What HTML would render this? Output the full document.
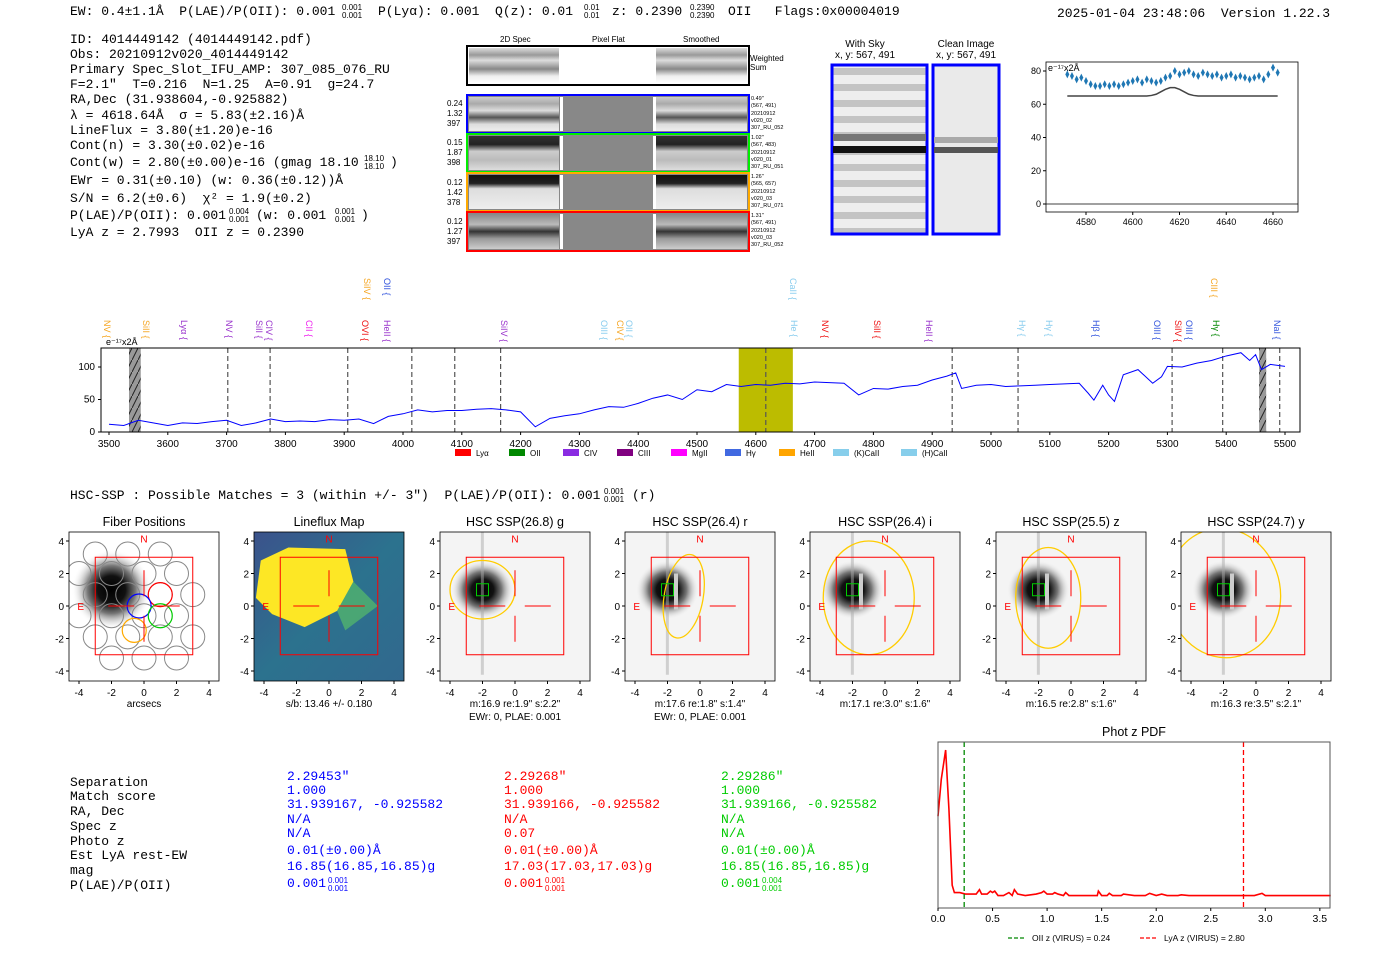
<!DOCTYPE html>
<html><head><meta charset="utf-8"><style>
body{margin:0;background:#fff}
svg{display:block}
text{font-family:"Liberation Sans",sans-serif}
.m,.mono text.v{font-family:"Liberation Mono",monospace;font-size:13px;white-space:pre}
.m{fill:#000}
.t{font-size:10px;fill:#000}
</style></head><body>
<svg id="root" width="1400" height="953" viewBox="0 0 1400 953" xmlns="http://www.w3.org/2000/svg">
<defs>
<linearGradient id="gWS" x1="0" y1="0" x2="0" y2="1"><stop offset="0" stop-color="#ddd"/><stop offset="0.2" stop-color="#999"/><stop offset="0.35" stop-color="#ddd"/><stop offset="0.6" stop-color="#888"/><stop offset="0.8" stop-color="#eee"/><stop offset="1" stop-color="#fff"/></linearGradient>
<linearGradient id="gB" x1="0" y1="0" x2="0" y2="1"><stop offset="0" stop-color="#ccc"/><stop offset="0.2" stop-color="#aaa"/><stop offset="0.4" stop-color="#ddd"/><stop offset="0.6" stop-color="#555"/><stop offset="0.8" stop-color="#ddd"/><stop offset="1" stop-color="#eee"/></linearGradient>
<linearGradient id="gG" x1="0" y1="0" x2="0" y2="1"><stop offset="0" stop-color="#333"/><stop offset="0.25" stop-color="#222"/><stop offset="0.45" stop-color="#ccc"/><stop offset="0.7" stop-color="#bbb"/><stop offset="1" stop-color="#ddd"/></linearGradient>
<linearGradient id="gO" x1="0" y1="0" x2="0" y2="1"><stop offset="0" stop-color="#111"/><stop offset="0.25" stop-color="#222"/><stop offset="0.4" stop-color="#ddd"/><stop offset="1" stop-color="#eee"/></linearGradient>
<linearGradient id="gR" x1="0" y1="0" x2="0" y2="1"><stop offset="0" stop-color="#888"/><stop offset="0.3" stop-color="#bbb"/><stop offset="0.5" stop-color="#333"/><stop offset="0.7" stop-color="#999"/><stop offset="1" stop-color="#ccc"/></linearGradient>
<pattern id="sky" width="10" height="16" patternUnits="userSpaceOnUse"><rect width="10" height="16" fill="#eee"/><rect y="4" width="10" height="7" fill="#c4c4c4"/></pattern>
<pattern id="hatch" width="6" height="12" patternUnits="userSpaceOnUse"><rect width="6" height="12" fill="#999"/><line x1="0" y1="12" x2="6" y2="0" stroke="#222" stroke-width="1"/></pattern>
<radialGradient id="star"><stop offset="0" stop-color="#000"/><stop offset="0.35" stop-color="#111"/><stop offset="0.6" stop-color="#777"/><stop offset="1" stop-color="#fff" stop-opacity="0"/></radialGradient>
<linearGradient id="vir" x1="0" y1="0" x2="1" y2="1"><stop offset="0" stop-color="#3b528b"/><stop offset="0.5" stop-color="#2c728e"/><stop offset="1" stop-color="#31688e"/></linearGradient>
</defs>

<g>
<text class="m" x="70" y="15">EW: 0.4±1.1Å  P(LAE)/P(OII): 0.001</text>
<text x="342" y="10" font-size="8">0.001</text><text x="342" y="18" font-size="8">0.001</text>
<text class="m" x="378" y="15">P(Lyα): 0.001  Q(z): 0.01</text>
<text x="584" y="10" font-size="8">0.01</text><text x="584" y="18" font-size="8">0.01</text>
<text class="m" x="612" y="15">z: 0.2390</text>
<text x="690" y="10" font-size="8">0.2390</text><text x="690" y="18" font-size="8">0.2390</text>
<text class="m" x="728" y="15">OII   Flags:0x00004019</text>
<text class="m" x="1057" y="17">2025-01-04 23:48:06  Version 1.22.3</text>
</g>
<g>
<text class="m" x="70" y="43">ID: 4014449142 (4014449142.pdf)</text>
<text class="m" x="70" y="58">Obs: 20210912v020_4014449142</text>
<text class="m" x="70" y="73">Primary Spec_Slot_IFU_AMP: 307_085_076_RU</text>
<text class="m" x="70" y="88">F=2.1"  T=0.216  N=1.25  A=0.91  g=24.7</text>
<text class="m" x="70" y="103">RA,Dec (31.938604,-0.925882)</text>
<text class="m" x="70" y="119">λ = 4618.64Å  σ = 5.83(±2.16)Å</text>
<text class="m" x="70" y="134">LineFlux = 3.80(±1.20)e-16</text>
<text class="m" x="70" y="149">Cont(n) = 3.30(±0.02)e-16</text>
<text class="m" x="70" y="166">Cont(w) = 2.80(±0.00)e-16 (gmag 18.10</text>
<text x="364" y="161" font-size="8">18.10</text><text x="364" y="169" font-size="8">18.10</text><text class="m" x="390" y="166">)</text>
<text class="m" x="70" y="184">EWr = 0.31(±0.10) (w: 0.36(±0.12))Å</text>
<text class="m" x="70" y="202">S/N = 6.2(±0.6)  χ² = 1.9(±0.2)</text>
<text class="m" x="70" y="219">P(LAE)/P(OII): 0.001</text>
<text x="229" y="214" font-size="8">0.004</text><text x="229" y="222" font-size="8">0.001</text>
<text class="m" x="256" y="219">(w: 0.001</text><text x="335" y="214" font-size="8">0.001</text><text x="335" y="222" font-size="8">0.001</text><text class="m" x="361" y="219">)</text>
<text class="m" x="70" y="236">LyA z = 2.7993  OII z = 0.2390</text>
</g>

<g font-size="7">
<text x="500" y="42" font-size="8">2D Spec</text><text x="592" y="42" font-size="8">Pixel Flat</text><text x="683" y="42" font-size="8">Smoothed</text>
<rect x="467" y="46" width="282" height="39" fill="#fff" stroke="#000" stroke-width="2"/>
<rect x="469" y="48" width="90" height="35" fill="url(#gWS)"/><rect x="656" y="48" width="91" height="35" fill="url(#gWS)"/>
<text x="750" y="61" font-size="8">Weighted</text><text x="750" y="70" font-size="8">Sum</text>
<g><rect x="467" y="95" width="282" height="38" fill="#888" stroke="#00f" stroke-width="2"/><rect x="469" y="97" width="90" height="34" fill="url(#gB)"/><rect x="656" y="97" width="91" height="34" fill="url(#gB)"/><rect x="560" y="97" width="3" height="34" fill="#fff"/><rect x="653" y="97" width="3" height="34" fill="#fff"/></g>
<g><rect x="467" y="134" width="282" height="38" fill="#888" stroke="#0e0" stroke-width="2"/><rect x="469" y="136" width="90" height="34" fill="url(#gG)"/><rect x="656" y="136" width="91" height="34" fill="url(#gG)"/><rect x="560" y="136" width="3" height="34" fill="#fff"/><rect x="653" y="136" width="3" height="34" fill="#fff"/></g>
<g><rect x="467" y="173" width="282" height="38" fill="#888" stroke="#fa0" stroke-width="2"/><rect x="469" y="175" width="90" height="34" fill="url(#gO)"/><rect x="656" y="175" width="91" height="34" fill="url(#gO)"/><rect x="560" y="175" width="3" height="34" fill="#fff"/><rect x="653" y="175" width="3" height="34" fill="#fff"/></g>
<g><rect x="467" y="212" width="282" height="39" fill="#888" stroke="#f00" stroke-width="2"/><rect x="469" y="214" width="90" height="35" fill="url(#gR)"/><rect x="656" y="214" width="91" height="35" fill="url(#gR)"/><rect x="560" y="214" width="3" height="35" fill="#fff"/><rect x="653" y="214" width="3" height="35" fill="#fff"/></g>
<g font-size="8"><text x="447" y="106">0.24</text><text x="447" y="116">1.32</text><text x="447" y="126">397</text>
<text x="447" y="145">0.15</text><text x="447" y="155">1.87</text><text x="447" y="165">398</text>
<text x="447" y="185">0.12</text><text x="447" y="195">1.42</text><text x="447" y="205">378</text>
<text x="447" y="224">0.12</text><text x="447" y="234">1.27</text><text x="447" y="244">397</text></g>
<g font-size="5.5"><text x="751" y="100">0.49"</text><text x="751" y="107">(567, 491)</text><text x="751" y="115">20210912</text><text x="751" y="122">v020_02</text><text x="751" y="129">307_RU_052</text>
<text x="751" y="139">1.02"</text><text x="751" y="146">(567, 483)</text><text x="751" y="154">20210912</text><text x="751" y="161">v020_01</text><text x="751" y="168">307_RU_051</text>
<text x="751" y="178">1.26"</text><text x="751" y="185">(565, 657)</text><text x="751" y="193">20210912</text><text x="751" y="200">v020_03</text><text x="751" y="207">307_RU_071</text>
<text x="751" y="217">1.31"</text><text x="751" y="224">(567, 491)</text><text x="751" y="232">20210912</text><text x="751" y="239">v020_03</text><text x="751" y="246">307_RU_052</text></g>
</g>
<g>
<text x="865" y="47" font-size="10" text-anchor="middle">With Sky</text><text x="865" y="58" font-size="10" text-anchor="middle">x, y: 567, 491</text>
<rect x="832" y="65" width="95" height="169" fill="url(#sky)" stroke="#00f" stroke-width="3"/>
<rect x="833" y="134" width="93" height="7" fill="#777"/><rect x="833" y="146" width="93" height="7" fill="#111"/>
</g>
<g>
<text x="966" y="47" font-size="10" text-anchor="middle">Clean Image</text><text x="966" y="58" font-size="10" text-anchor="middle">x, y: 567, 491</text>
<rect x="933" y="65" width="66" height="169" fill="#eaeaea" stroke="#00f" stroke-width="3"/>
<rect x="934" y="137" width="64" height="6" fill="#aaa"/><rect x="934" y="147" width="64" height="6" fill="#555"/>
</g>

<g id="zoomplot"></g>
<g id="spec"></g>

<text class="m" x="70" y="499">HSC-SSP : Possible Matches = 3 (within +/- 3")  P(LAE)/P(OII): 0.001</text>
<text x="604" y="494" font-size="8">0.001</text><text x="604" y="502" font-size="8">0.001</text>
<text class="m" x="632" y="499">(r)</text>

<g id="hsc"></g>

<g>
<text class="m" x="70" y="786">Separation</text><text class="m" x="70" y="800">Match score</text><text class="m" x="70" y="815">RA, Dec</text><text class="m" x="70" y="830">Spec z</text><text class="m" x="70" y="845">Photo z</text><text class="m" x="70" y="859">Est LyA rest-EW</text><text class="m" x="70" y="874">mag</text><text class="m" x="70" y="889">P(LAE)/P(OII)</text>
<g class="mono" fill="#00f"><text class="v" x="287" y="780">2.29453"</text><text class="v" x="287" y="794">1.000</text><text class="v" x="287" y="808">31.939167, -0.925582</text><text class="v" x="287" y="823">N/A</text><text class="v" x="287" y="837">N/A</text><text class="v" x="287" y="854">0.01(±0.00)Å</text><text class="v" x="287" y="870">16.85(16.85,16.85)g</text><text class="v" x="287" y="887">0.001</text><text x="328" y="883" font-size="8">0.001</text><text x="328" y="891" font-size="8">0.001</text></g>
<g class="mono" fill="#f00"><text class="v" x="504" y="780">2.29268"</text><text class="v" x="504" y="794">1.000</text><text class="v" x="504" y="808">31.939166, -0.925582</text><text class="v" x="504" y="823">N/A</text><text class="v" x="504" y="837">0.07</text><text class="v" x="504" y="854">0.01(±0.00)Å</text><text class="v" x="504" y="870">17.03(17.03,17.03)g</text><text class="v" x="504" y="887">0.001</text><text x="545" y="883" font-size="8">0.001</text><text x="545" y="891" font-size="8">0.001</text></g>
<g class="mono" fill="#0c0"><text class="v" x="721" y="780">2.29286"</text><text class="v" x="721" y="794">1.000</text><text class="v" x="721" y="808">31.939166, -0.925582</text><text class="v" x="721" y="823">N/A</text><text class="v" x="721" y="837">N/A</text><text class="v" x="721" y="854">0.01(±0.00)Å</text><text class="v" x="721" y="870">16.85(16.85,16.85)g</text><text class="v" x="721" y="887">0.001</text><text x="762" y="883" font-size="8">0.004</text><text x="762" y="891" font-size="8">0.001</text></g>
</g>

<g id="pdf"></g>
</svg>
<script>
const NS="http://www.w3.org/2000/svg";
function mk(parent,tag,attrs,txt){const e=document.createElementNS(NS,tag);for(const k in attrs)e.setAttribute(k,attrs[k]);if(txt!==undefined)e.textContent=txt;parent.appendChild(e);return e;}

const zoomWave=[4572,4574,4576,4578,4580,4582,4584,4586,4588,4590,4592,4594,4596,4598,4600,4602,4604,4606,4608,4610,4612,4614,4616,4618,4620,4622,4624,4626,4628,4630,4632,4634,4636,4638,4640,4642,4644,4646,4648,4650,4652,4654,4656,4658,4660,4662];
const zoomFlux=[78,77,75,76,74,72,71,71,72,71,72,71,72,73,74,75,73,75,74,73,74,76,77,80,78,79,80,78,77,79,78,77,78,76,77,78,76,77,76,75,76,77,75,78,82,79];
const zoomModel=[65,65,65,65,65,65,65,65,65,65,65,65,65,65,65,65,65,65,65.3,66,67.5,69,70,70,69,67.5,66,65.3,65,65,65,65,65,65,65,65,65,65,65,65,65,65,65,65,65,65];
const zoomYTicks=[0,20,40,60,80];
const zoomXTicks=[4580,4600,4620,4640,4660];
(function(){
 const g=document.getElementById('zoomplot');
 const X=w=>1086+(w-4580)*2.3375, Y=v=>204-v*1.6625;
 const ax=mk(g,'rect',{x:1046,y:62,width:252,height:150,fill:'none',stroke:'#000','stroke-width':0.8});
 
 
 mk(g,'line',{x1:1046,x2:1298,y1:Y(0),y2:Y(0),stroke:'#000','stroke-width':0.8});
 zoomYTicks.forEach(t=>{mk(g,'line',{x1:1043,x2:1046,y1:Y(t),y2:Y(t),stroke:'#000'});const tx=mk(g,'text',{x:1041,y:Y(t)+3,'font-size':9,'text-anchor':'end'},t);});
 zoomXTicks.forEach(t=>{mk(g,'line',{x1:X(t),x2:X(t),y1:212,y2:215,stroke:'#000'});const tx=mk(g,'text',{x:X(t),y:225,'font-size':9,'text-anchor':'middle'},t);});
 mk(g,'text',{x:1048,y:71,'font-size':9},'e⁻¹⁷x2Å');
 const m=mk(g,'polyline',{points:zoomWave.map((w,i)=>X(w)+','+Y(zoomModel[i])).join(' '),fill:'none',stroke:'#444','stroke-width':1.5});
 
 
 zoomWave.forEach((w,i)=>{const d=mk(g,'path',{d:`M${X(w)},${Y(zoomFlux[i])-4}l2,4l-2,4l-2,-4z`,fill:'#1f77b4'});});
})();

const specWave=[3500,3525,3550,3575,3600,3625,3650,3675,3700,3725,3750,3775,3800,3825,3850,3875,3900,3925,3950,3975,4000,4025,4050,4075,4100,4125,4150,4175,4200,4225,4250,4275,4300,4325,4350,4375,4400,4425,4450,4475,4500,4525,4550,4575,4600,4625,4650,4675,4700,4725,4750,4775,4800,4825,4850,4875,4900,4925,4940,4950,4975,5000,5025,5050,5075,5100,5125,5150,5165,5175,5190,5200,5210,5225,5250,5275,5290,5300,5325,5350,5375,5400,5425,5440,5450,5460,5475,5500];
const specFlux=[12,10,18,14,10,14,13,16,18,10,14,20,16,17,16,19,18,20,13,24,28,34,31,33,33,35,36,34,31,8,21,25,28,34,39,38,44,52,57,50,65,62,73,70,73,72,75,74,77,76,75,57,67,66,70,72,80,86,91,67,72,73,70,71,72,73,74,75,60,49,72,57,47,88,96,75,85,101,100,106,110,117,122,110,119,96,104,101];
const specYTicks=[0,50,100];
const specXTicks=[3500,3600,3700,3800,3900,4000,4100,4200,4300,4400,4500,4600,4700,4800,4900,5000,5100,5200,5300,5400,5500];
const specDashWave=[3702,3774,3906,4015,4088,4166,4617,4934,5046,5308,5394,5491];
const specLines=[["NV",104,"#f5a623",0],["SiII",143,"#f5a623",0],["Lyα",181,"#9933cc",0],["NV",226,"#9933cc",0],["SiII",256,"#9933cc",0],["CIV",266,"#9933cc",0],["CII",306,"#ee22ee",0],["SiIV",364,"#f5a623",1],["OII",384,"#3355dd",1],["OVI",362,"#ee1111",0],["HeII",384,"#9933cc",0],["SiIV",501,"#9933cc",0],["OIII",601,"#88ccee",0],["CIV",617,"#f5a623",0],["OII",626,"#88ccee",0],["CaII",790,"#88ccee",1],["He",791,"#88ccee",0],["NV",822,"#ee1111",0],["SiII",874,"#ee1111",0],["HeII",926,"#9933cc",0],["Hγ",1019,"#88ccee",0],["Hγ",1046,"#88ccee",0],["Hβ",1093,"#3355dd",0],["OIII",1154,"#3355dd",0],["SiIV",1175,"#ee1111",0],["OIII",1186,"#3355dd",0],["CIII",1211,"#f5a623",1],["Hγ",1213,"#008800",0],["NaI",1274,"#3355dd",0]];
const specLegend=[["Lyα","#f00"],["OII","#080"],["CIV","#8a2be2"],["CIII","#800080"],["MgII","#f0f"],["Hγ","#4169e1"],["HeII","#ffa500"],["(K)CaII","#87ceeb"],["(H)CaII","#87ceeb"]];
(function(){
 const g=document.getElementById('spec');
 const X=w=>109+(w-3500)*0.588, Y=v=>432-v*0.65;
 mk(g,'rect',{x:101,y:348,width:1199,height:84,fill:'#fff'});
 const band=mk(g,'rect',{x:X(4571),y:348,width:X(4663)-X(4571),height:84,fill:'#bcbc00'});
 
 
 mk(g,'rect',{x:X(3534),y:348,width:X(3554)-X(3534),height:84,fill:'url(#hatch)'});
 mk(g,'rect',{x:X(5456),y:348,width:X(5468)-X(5456),height:84,fill:'url(#hatch)'});
 specDashWave.forEach(w=>{const l=mk(g,'line',{x1:X(w),x2:X(w),y1:348,y2:432,stroke:'#555','stroke-dasharray':'5,3','stroke-width':1.2});});
 const p=mk(g,'polyline',{points:specWave.map((w,i)=>X(w)+','+Y(specFlux[i])).join(' '),fill:'none',stroke:'#00f','stroke-width':1});
 
 
 mk(g,'rect',{x:101,y:348,width:1199,height:84,fill:'none',stroke:'#000','stroke-width':1});
 specYTicks.forEach(t=>{mk(g,'line',{x1:98,x2:101,y1:Y(t),y2:Y(t),stroke:'#000'});const tx=mk(g,'text',{x:95,y:Y(t)+3,'font-size':10,'text-anchor':'end'},t);});
 specXTicks.forEach(t=>{mk(g,'line',{x1:X(t),x2:X(t),y1:432,y2:435,stroke:'#000'});const tx=mk(g,'text',{x:X(t),y:447,'font-size':10,'text-anchor':'middle'},t);});
 mk(g,'text',{x:106,y:345,'font-size':9},'e⁻¹⁷x2Å');
 specLines.forEach(s=>{const y=s[3]?278:320;const t=mk(g,'text',{x:s[1],y:y,'font-size':9,fill:s[2],transform:`rotate(90 ${s[1]} ${y})`},s[0]+' {');});
 let lx=455;
 specLegend.forEach(s=>{mk(g,'rect',{x:lx,y:449,width:16,height:7,fill:s[1]});const t=mk(g,'text',{x:lx+21,y:456,'font-size':8},s[0]);lx+=s[0].length>4?68:54;});
})();

const hscTitles=["Fiber Positions","Lineflux Map","HSC SSP(26.8) g","HSC SSP(26.4) r","HSC SSP(26.4) i","HSC SSP(25.5) z","HSC SSP(24.7) y"];
const hscSub1=["arcsecs","s/b: 13.46 +/- 0.180","m:16.9  re:1.9\"  s:2.2\"","m:17.6  re:1.8\"  s:1.4\"","m:17.1  re:3.0\"  s:1.6\"","m:16.5  re:2.8\"  s:1.6\"","m:16.3  re:3.5\"  s:2.1\""];
const hscSub2=["","","EWr: 0, PLAE: 0.001","EWr: 0, PLAE: 0.001","","",""];
const hscTicks=[-4,-2,0,2,4];
const hscEllipse=[null,null,[-2,1,2,1.8,0],[-1,0.6,1.2,2.6,10],[-1,0.5,2.8,3.5,0],[-1.4,0.5,2,3.1,0],[-2,0.8,3.5,4,-10]];
(function(){
 const g=document.getElementById('hsc');
 const centers=[144,329,515,700,885,1071,1256];
 centers.forEach((cx,i)=>{
  const cy=606,s=16.25;
  const P=mk(g,'g',{});
  
  
  const X=v=>cx+v*s,Y=v=>cy-v*s;
  mk(P,'clipPath',{id:'c'+i}).appendChild(document.createElementNS(NS,'rect'));
  const cp=document.getElementById('c'+i).firstChild;cp.setAttribute('x',cx-75);cp.setAttribute('y',cy-74);cp.setAttribute('width',150);cp.setAttribute('height',149);
  const im=mk(P,'g',{'clip-path':`url(#c${i})`});
  if(i===1){mk(im,'rect',{x:cx-75,y:cy-74,width:150,height:149,fill:'url(#vir)'});
   mk(im,'path',{d:`M${X(-4.2)},${Y(2.8)} L${X(-2.5)},${Y(3.6)} L${X(1)},${Y(3.5)} L${X(1.5)},${Y(1.5)} L${X(0.5)},${Y(-0.3)} L${X(-1.5)},${Y(-1.3)} L${X(-3.5)},${Y(-0.5)} L${X(-4.5)},${Y(0.5)} Z`,fill:'#fde725'});
   mk(im,'path',{d:`M${X(1.5)},${Y(1.5)} L${X(3)},${Y(0)} L${X(1)},${Y(-1.5)} L${X(0.5)},${Y(-0.3)} Z`,fill:'#5ec962',opacity:0.6});}
  else{mk(im,'rect',{x:cx-75,y:cy-74,width:150,height:149,fill:i===0?'#fff':'#f4f4f4'});
   mk(im,'ellipse',{cx:X(-2),cy:Y(1),rx:i===0?40:32,ry:i===0?40:30,fill:'url(#star)'});
   if(i>=3){mk(im,'rect',{x:X(-1.6),y:Y(2),width:4,height:36,fill:'#ccc'});}
   if(i>=2){mk(im,'rect',{x:X(-2.1),y:Y(5),width:3,height:150,fill:'#aaa',opacity:0.5});}}
  if(i===0){const fib=[[-2,2],[0,2],[2,2],[-3,0.7],[-1,0.7],[1,0.7],[3,0.7],[-2,-0.6],[0,-0.6],[2,-0.6],[-3,-1.9],[-1,-1.9],[1,-1.9],[3,-1.9],[-2,-3.2],[0,-3.2],[2,-3.2],[-3,3.2],[-1,3.2],[1,3.2],[-4,2],[-4,-0.6]];
   fib.forEach(f=>mk(im,'circle',{cx:X(f[0]),cy:Y(f[1]),r:12,fill:'none',stroke:'#888','stroke-width':1}));
   mk(im,'circle',{cx:X(1),cy:Y(0.7),r:12,fill:'none',stroke:'#f00','stroke-width':1.2});
   mk(im,'circle',{cx:X(-0.3),cy:Y(0),r:12,fill:'none',stroke:'#00f','stroke-width':1.2});
   mk(im,'circle',{cx:X(1),cy:Y(-0.6),r:12,fill:'none',stroke:'#0c0','stroke-width':1.2});
   mk(im,'circle',{cx:X(-0.6),cy:Y(-1.5),r:12,fill:'none',stroke:'#fa0','stroke-width':1.2});}
  if(hscEllipse[i]){const e=hscEllipse[i];mk(im,'ellipse',{cx:X(e[0]),cy:Y(e[1]),rx:e[2]*s,ry:e[3]*s,fill:'none',stroke:'#fc0','stroke-width':1.3,transform:`rotate(${e[4]} ${X(e[0])} ${Y(e[1])})`});}
  if(i>=2){mk(im,'rect',{x:X(-2)-6,y:Y(1)-6,width:12,height:12,fill:'none',stroke:'#0c0','stroke-width':1});}
  mk(im,'rect',{x:X(-3),y:Y(3),width:6*s,height:6*s,fill:'none',stroke:'#f00','stroke-width':1});
  [[-2.2,-0.6],[0.6,2.2]].forEach(a=>{mk(im,'line',{x1:X(a[0]),x2:X(a[1]),y1:cy,y2:cy,stroke:'#f00'});mk(im,'line',{y1:Y(a[0]),y2:Y(a[1]),x1:cx,x2:cx,stroke:'#f00'});});
  mk(im,'text',{x:cx,y:Y(3.9),'font-size':10,fill:'#f00','text-anchor':'middle'},'N');
  mk(im,'text',{x:X(-4.1),y:cy+4,'font-size':10,fill:'#f00'},'E');
  mk(P,'rect',{x:cx-75,y:cy-74,width:150,height:149,fill:'none',stroke:'#000','stroke-width':0.8});
  hscTicks.forEach(t=>{mk(P,'line',{x1:X(t),x2:X(t),y1:cy+75,y2:cy+78,stroke:'#000'});mk(P,'text',{x:X(t),y:cy+90,'font-size':10,'text-anchor':'middle'},t);
   mk(P,'line',{x1:cx-78,x2:cx-75,y1:Y(t),y2:Y(t),stroke:'#000'});mk(P,'text',{x:cx-80,y:Y(t)+4,'font-size':10,'text-anchor':'end'},t);});
  const tt=mk(P,'text',{x:cx,y:526,'font-size':12.5,'text-anchor':'middle'},hscTitles[i]);
  mk(P,'text',{x:cx,y:707,'font-size':10,'text-anchor':'middle'},hscSub1[i]);
  if(hscSub2[i])mk(P,'text',{x:cx,y:720,'font-size':10,'text-anchor':'middle'},hscSub2[i]);
 });
})();

const pdfZ=[0,0.03,0.07,0.1,0.13,0.15,0.2,0.25,0.3,0.35,0.38,0.4,0.45,0.48,0.5,0.52,0.55,0.6,0.65,0.68,0.7,0.73,0.8,0.9,0.95,0.97,1.0,1.05,1.07,1.1,1.15,1.17,1.2,1.3,1.4,1.46,1.47,1.5,1.55,1.57,1.6,1.68,1.7,1.8,1.9,1.94,2.0,2.05,2.1,2.2,2.23,2.3,2.5,2.7,2.9,2.97,3.0,3.2,3.4,3.6];
const pdfP=[0.55,0.8,1.0,0.6,0.08,0.03,0.03,0.02,0.02,0.02,0.05,0.02,0.02,0.04,0.03,0.04,0.01,0.01,0.03,0.01,0.05,0.02,0.01,0.02,0.03,0.04,0.02,0.02,0.03,0.02,0.01,0.03,0.01,0.01,0.01,0.01,0.04,0.01,0.01,0.025,0.01,0.01,0.02,0.01,0.01,0.025,0.01,0.02,0.01,0.01,0.015,0.01,0.01,0.01,0.01,0.025,0.01,0.01,0.01,0.01];
const pdfXTicks=[0,0.5,1.0,1.5,2.0,2.5,3.0,3.5];
const pdfOIIz=0.24, pdfLyaZ=2.80;
(function(){
 const g=document.getElementById('pdf');
 const X=z=>938+z*109.1, Y=p=>897-p*147;
 mk(g,'text',{x:1134,y:736,'font-size':12.5,'text-anchor':'middle'},'Phot z PDF');
 const l=mk(g,'polyline',{points:pdfZ.map((z,i)=>X(z)+','+Y(pdfP[i])).join(' '),fill:'none',stroke:'#f00','stroke-width':1.6});
 
 
 const a=mk(g,'line',{x1:X(pdfOIIz),x2:X(pdfOIIz),y1:742,y2:908,stroke:'#080','stroke-width':1.3,'stroke-dasharray':'5,3'});
 
 
 const b=mk(g,'line',{x1:X(pdfLyaZ),x2:X(pdfLyaZ),y1:742,y2:908,stroke:'#f00','stroke-width':1.3,'stroke-dasharray':'5,3'});
 
 
 mk(g,'rect',{x:938,y:742,width:392,height:166,fill:'none',stroke:'#555','stroke-width':1});
 pdfXTicks.forEach(t=>{mk(g,'line',{x1:X(t),x2:X(t),y1:908,y2:911,stroke:'#000'});const tx=mk(g,'text',{x:X(t),y:922,'font-size':10.5,'text-anchor':'middle'},t.toFixed(1));});
 mk(g,'line',{x1:1008,x2:1025,y1:938,y2:938,stroke:'#080','stroke-width':1.3,'stroke-dasharray':'4,2'});
 const t1=mk(g,'text',{x:1032,y:941,'font-size':8.5},'OII z (VIRUS) = 0.24');
 mk(g,'line',{x1:1140,x2:1157,y1:938,y2:938,stroke:'#f00','stroke-width':1.3,'stroke-dasharray':'4,2'});
 const t2=mk(g,'text',{x:1164,y:941,'font-size':8.5},'LyA z (VIRUS) = 2.80');
})();
</script>
</body></html>
